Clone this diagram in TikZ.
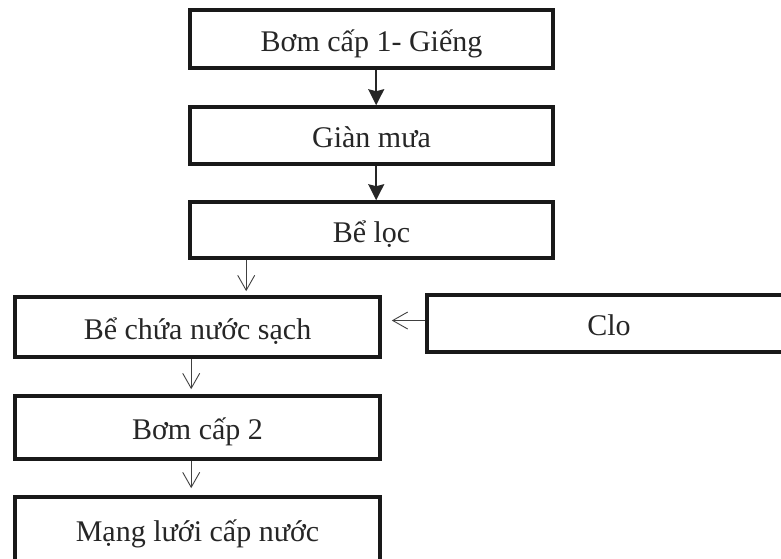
\documentclass[tikz,border=0pt]{standalone}
\usepackage{fontspec}
\setmainfont{Liberation Serif}
\usetikzlibrary{arrows.meta}
\begin{document}
\begin{tikzpicture}[x=1pt,y=-1pt,
  box/.style={draw=black!90, line width=3.6pt, inner sep=0pt, text height=24pt, text depth=0pt,
    font=\fontsize{30}{33}\selectfont, text=black!85},
  solidflow/.style={line width=1.8pt, black!85, -{Stealth[length=16pt,width=16pt,inset=2pt]}},
  thinflow/.style={line width=0.9pt, black!75, -{Straight Barb[length=15pt,width=17pt,line width=0.9pt]}}]
\useasboundingbox (0,0) rectangle (781,558);
\clip (0,0) rectangle (781,558);
% upper column
\node[box, minimum width=363pt, minimum height=58pt] (b1) at (371.5,39) {Bơm cấp 1- Giếng};
\node[box, minimum width=363pt, minimum height=57pt] (b2) at (371.5,135.5) {Giàn mưa};
\node[box, minimum width=363pt, minimum height=56pt] (b3) at (371.5,230) {Bể lọc};
% lower column
\node[box, minimum width=365pt, minimum height=60pt] (b4) at (197.5,327) {Bể chứa nước sạch};
\node[box, minimum width=365pt, minimum height=63pt] (b6) at (197.5,427.5) {Bơm cấp 2};
\node[box, minimum width=365pt, minimum height=64pt] (b7) at (197.5,529) {Mạng lưới cấp nước};
% chlorine dosing
\node[box, minimum width=364pt, minimum height=57pt] (b5) at (609,323.5) {Clo};
% flow connectors
\draw[solidflow] ([xshift=188pt]b1.south west) -- ([xshift=188pt]b2.north west);
\draw[solidflow] ([xshift=188pt]b2.south west) -- ([xshift=188pt]b3.north west);
\draw[thinflow, shorten >=4pt] ([xshift=58pt]b3.south west) -- ([xshift=233pt]b4.north west);
\draw[thinflow, shorten >=5pt] ([xshift=178pt]b4.south west) -- ([xshift=178pt]b6.north west);
\draw[thinflow, shorten >=7pt] ([xshift=178pt]b6.south west) -- ([xshift=178pt]b7.north west);
\draw[thinflow, shorten >=10pt] ([yshift=3pt]b5.west) -- ([yshift=3pt]b4.east |- b5.west);
\end{tikzpicture}
\end{document}
